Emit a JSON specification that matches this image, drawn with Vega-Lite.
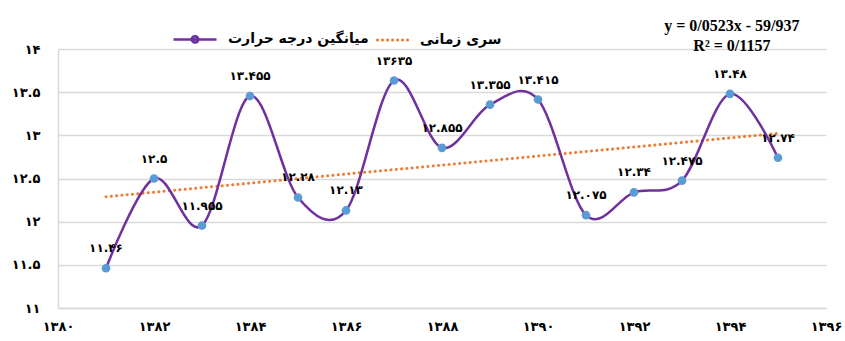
{
  "$schema": "https://vega.github.io/schema/vega-lite/v6.json",
  "autosize": "none",
  "width": 768,
  "height": 259,
  "padding": {"left": 58, "top": 49, "right": 19, "bottom": 33},
  "background": "white",
  "config": {
    "locale": {"number": {"decimal": ".", "thousands": ",", "grouping": [3], "currency": ["", ""], "numerals": ["۰","۱","۲","۳","۴","۵","۶","۷","۸","۹"]}},
    "view": {"stroke": null},
    "legend": {"padding": 0}
  },
  "title": {
    "text": "y = 0/0523x - 59/937",
    "subtitle": "R² = 0/1157",
    "anchor": "end",
    "align": "center",
    "dx": -110,
    "offset": -22,
    "font": "Liberation Serif",
    "fontSize": 16,
    "fontWeight": "bold",
    "color": "black",
    "subtitleFont": "Liberation Serif",
    "subtitleFontSize": 16,
    "subtitleFontWeight": "bold",
    "subtitleColor": "black",
    "subtitlePadding": 4
  },
  "datasets": {
    "temp": [
      {"year": 1381, "temp": 11.46, "label": "۱۱.۴۶"},
      {"year": 1382, "temp": 12.5, "label": "۱۲.۵"},
      {"year": 1383, "temp": 11.955, "label": "۱۱.۹۵۵"},
      {"year": 1384, "temp": 13.455, "label": "۱۳.۴۵۵"},
      {"year": 1385, "temp": 12.28, "label": "۱۲.۲۸"},
      {"year": 1386, "temp": 12.13, "label": "۱۲.۱۳"},
      {"year": 1387, "temp": 13.635, "label": "۱۳۶۳۵"},
      {"year": 1388, "temp": 12.855, "label": "۱۲.۸۵۵"},
      {"year": 1389, "temp": 13.355, "label": "۱۳.۳۵۵"},
      {"year": 1390, "temp": 13.415, "label": "۱۳.۴۱۵"},
      {"year": 1391, "temp": 12.075, "label": "۱۲.۰۷۵"},
      {"year": 1392, "temp": 12.34, "label": "۱۲.۳۴"},
      {"year": 1393, "temp": 12.475, "label": "۱۲.۴۷۵"},
      {"year": 1394, "temp": 13.48, "label": "۱۳.۴۸"},
      {"year": 1395, "temp": 12.74, "label": "۱۲.۷۴"}
    ],
    "trend": [
      {"year": 1381, "temp": 12.289},
      {"year": 1395, "temp": 13.022}
    ]
  },
  "encoding": {
    "x": {
      "field": "year", "type": "quantitative",
      "scale": {"domain": [1380, 1396], "nice": false, "zero": false},
      "axis": {
        "title": null, "values": [1380,1382,1384,1386,1388,1390,1392,1394,1396],
        "format": "d", "grid": false, "ticks": false,
        "domainColor": "#D9D9D9", "domainWidth": 1.5,
        "labelFont": "DejaVu Sans", "labelFontSize": 13, "labelFontWeight": "bold",
        "labelColor": "black", "labelPadding": 12, "labelFlush": false, "labelOverlap": false
      }
    },
    "y": {
      "field": "temp", "type": "quantitative",
      "scale": {"domain": [11, 14], "nice": false, "zero": false},
      "axis": {
        "title": null, "values": [11, 11.5, 12, 12.5, 13, 13.5, 14],
        "format": "~r", "grid": true, "gridColor": "#D9D9D9", "gridWidth": 1.5, "ticks": false,
        "domainColor": "#D9D9D9", "domainWidth": 1.5,
        "labelFont": "DejaVu Sans", "labelFontSize": 13, "labelFontWeight": "bold",
        "labelColor": "black", "labelPadding": 18
      }
    }
  },
  "layer": [
    {
      "data": {"name": "trend"},
      "mark": {"type": "line", "strokeWidth": 3, "strokeCap": "round", "strokeDash": [0.1, 5.2]},
      "encoding": {
        "color": {
          "datum": "سری زمانی",
          "scale": {"domain": ["میانگین درجه حرارت", "سری زمانی"], "range": ["#7030A0", "#ED7D31"]},
          "legend": {
            "title": null, "orient": "none", "direction": "horizontal",
            "legendX": 130, "legendY": -17,
            "symbolType": "stroke", "symbolSize": 1849, "symbolStrokeWidth": 2.5,
            "labelFont": "DejaVu Sans", "labelFontSize": 14, "labelFontWeight": "bold", "labelColor": "black",
            "labelOffset": 26, "columnPadding": -10, "labelLimit": 300,
            "encode": {"symbols": {"update": {
              "shape": {"signal": "datum.value === 'سری زمانی' ? 'stroke' : 'M-1,0L1,0M-0.15,0A0.15,0.15 0 1,0 0.15,0A0.15,0.15 0 1,0 -0.15,0Z'"},
              "fill": {"signal": "datum.value === 'سری زمانی' ? 'transparent' : '#5B9BD5'"},
              "fillOpacity": {"value": 1},
              "stroke": {"signal": "datum.value === 'سری زمانی' ? '#ED7D31' : {gradient: 'linear', x1: 0, y1: 0, x2: 1, y2: 0, stops: [{offset: 0, color: '#7030A0'}, {offset: 0.385, color: '#7030A0'}, {offset: 0.385, color: '#5B9BD5'}, {offset: 0.615, color: '#5B9BD5'}, {offset: 0.615, color: '#7030A0'}, {offset: 1, color: '#7030A0'}]}"},
              "strokeDash": {"signal": "datum.value === 'سری زمانی' ? [0.1, 4.9, 0.1, 4.9, 0.1, 4.9, 0.1, 4.9, 0.1, 4.9, 0.1, 4.9, 0.1, 30] : [1, 0]"},
              "strokeDashOffset": {"signal": "datum.value === 'سری زمانی' ? -12 : 0"},
              "strokeCap": {"signal": "datum.value === 'سری زمانی' ? 'round' : 'butt'"},
              "strokeWidth": {"signal": "datum.value === 'سری زمانی' ? 3 : 2.5"}
            }}}
          }
        }
      }
    },
    {
      "data": {"name": "temp"},
      "mark": {"type": "line", "interpolate": "cardinal", "strokeWidth": 2.5},
      "encoding": {"color": {"datum": "میانگین درجه حرارت"}}
    },
    {
      "data": {"name": "temp"},
      "mark": {"type": "point", "filled": true, "size": 75, "opacity": 1, "color": "#5B9BD5"}
    },
    {
      "data": {"name": "temp"},
      "mark": {"type": "text", "dy": -20, "font": "DejaVu Sans", "fontSize": 12, "fontWeight": "bold", "color": "black"},
      "encoding": {"text": {"field": "label"}}
    }
  ]
}
